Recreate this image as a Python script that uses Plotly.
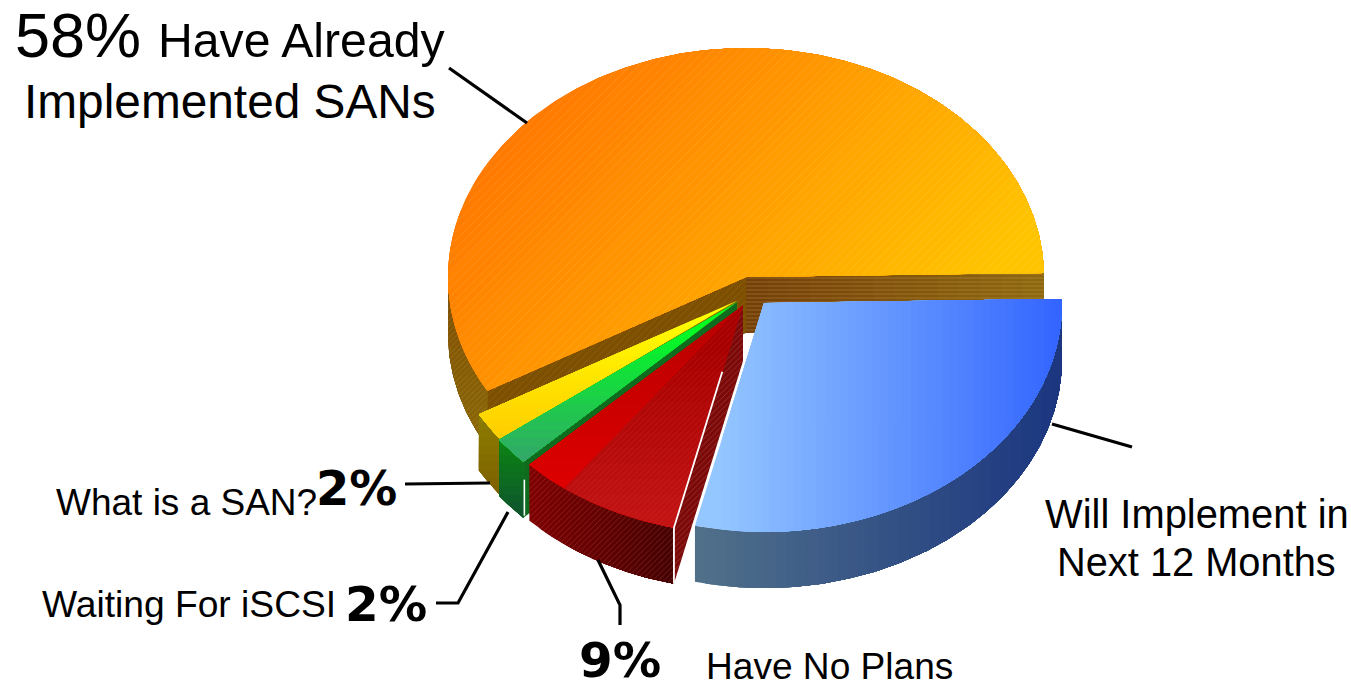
import numpy as np
import plotly.graph_objects as go

# ---- data -------------------------------------------------------------
slice_names = ["Have Already Implemented SANs", "What is a SAN?", "Waiting For iSCSI",
               "Have No Plans", "Will Implement in Next 12 Months"]
slice_values = [58, 2, 2, 9, 29]

# ---- styling ----------------------------------------------------------
W, H = 1351, 682
RX, RY, DEPTH = 298, 229, 56
START_ANGLE = 1
centres = [(746, 277), (737.5, 300.5), (737, 302), (743, 305), (764, 303)]

fig = go.Figure()


def mix(a, b, f):
    a = [int(a[i:i + 2], 16) for i in (1, 3, 5)]
    b = [int(b[i:i + 2], 16) for i in (1, 3, 5)]
    return "rgb(%d,%d,%d)" % tuple(round(x + (y - x) * f) for x, y in zip(a, b))


def clip_ge(pts, d, lim):
    """keep the part of a polygon whose projection on d is >= lim"""
    out = []
    n = len(pts)
    for i in range(n):
        p, q = pts[i], pts[(i + 1) % n]
        pv = p[0] * d[0] + p[1] * d[1] - lim
        qv = q[0] * d[0] + q[1] * d[1] - lim
        if pv >= 0:
            out.append(p)
        if (pv >= 0) != (qv >= 0):
            f = pv / (pv - qv)
            out.append((p[0] + (q[0] - p[0]) * f, p[1] + (q[1] - p[1]) * f))
    return out


def add_poly(pts, color):
    xs = [p[0] for p in pts] + [pts[0][0]]
    ys = [p[1] for p in pts] + [pts[0][1]]
    fig.add_trace(go.Scatter(x=xs, y=ys, mode="lines", fill="toself", fillcolor=color,
                             line=dict(width=0, color=color), hoverinfo="skip", showlegend=False))


def gradient(pts, c0, c1, d=(1, 0), p0=None, p1=None, n=28):
    pr = [p[0] * d[0] + p[1] * d[1] for p in pts]
    p0 = min(pr) if p0 is None else p0
    p1 = max(pr) if p1 is None else p1
    add_poly(pts, mix(c0, c1, 0))
    for k in range(1, n + 1):
        lim = p0 + (p1 - p0) * k / n
        part = clip_ge(pts, d, lim)
        if len(part) >= 3:
            add_poly(part, mix(c0, c1, k / n))


def hatch(pts, fg="#ffffff", op=0.25, size=7, solidity=0.14, shape="/"):
    xs = [p[0] for p in pts] + [pts[0][0]]
    ys = [p[1] for p in pts] + [pts[0][1]]
    fig.add_trace(go.Scatter(x=xs, y=ys, mode="lines", fill="toself",
                             fillcolor="rgba(0,0,0,0)", line=dict(width=0, color="rgba(0,0,0,0)"),
                             fillpattern=dict(shape=shape, size=size, solidity=solidity, fgcolor=fg,
                                              fgopacity=op, bgcolor="rgba(0,0,0,0)", fillmode="overlay"),
                             hoverinfo="skip", showlegend=False))


def pt(c, deg, dz=0):
    t = np.radians(deg)
    return (c[0] + RX * np.cos(t), c[1] - RY * np.sin(t) + dz)


def arc(c, a, b, dz=0, n=None):
    n = n or max(3, int(abs(b - a) * 1.5))
    return [pt(c, x, dz) for x in np.linspace(a, b, n)]


def top(c, a, b):
    return [c] + arc(c, a, b)


def wall(c, a, b):
    return arc(c, a, b) + arc(c, b, a, DEPTH)


def face(c, a):
    e = pt(c, a)
    return [c, e, (e[0], e[1] + DEPTH), (c[0], c[1] + DEPTH)]


edges = START_ANGLE + np.concatenate([[0], np.cumsum(slice_values)]) * 360.0 / sum(slice_values)
a = [(edges[i], edges[i + 1]) for i in range(len(slice_values))]

# orange (back)
c = centres[0]
f0 = face(c, a[0][0])
gradient(f0, "#74400a", "#8f6a10", n=14); hatch(f0, "#e0b060", .38, 4, .2, "-")
f1 = face(c, a[0][1])
add_poly(f1, "#7c5000"); hatch(f1, "#e0b060", .22, 5, .12)
w = wall(c, 180, a[0][1])
gradient(w, "#7e4e04", "#8c6a08", (0, 1), n=12); hatch(w, "#e0c060", .3, 4, .16)
t = top(c, *a[0])
gradient(t, "#ff7800", "#ffc400", (1, .9), 620, 1230, 40); hatch(t, "#ffffff", .22, 6, .08)

# yellow
c = centres[1]
add_poly(face(c, a[1][1]), "#8a6a00")
gradient(wall(c, *a[1]), "#8c7c00", "#7c5e00", (0, 1), n=10)
gradient(top(c, *a[1]), "#ffff00", "#ffcc00", (0, 1), 310, 435, 16)

# green
c = centres[2]
add_poly(face(c, a[2][1]), "#0f6b1e")
gradient(wall(c, *a[2]), "#0b8214", "#10502f", (0, 1), n=10)
gradient(top(c, *a[2]), "#00ff20", "#33a868", (0, 1), 320, 455, 16)
e = pt(c, a[2][1])
fig.add_trace(go.Scatter(x=[e[0] + 1, e[0] + 1], y=[e[1] + 18, e[1] + DEPTH - 2], mode="lines",
                         line=dict(color="#ffffff", width=1.6), hoverinfo="skip", showlegend=False))

# red
c = centres[3]
f = face(c, a[3][1])
add_poly(f, "#7c0808"); hatch(f, "#ffffff", .25, 4, .16)
w = wall(c, *a[3])
gradient(w, "#7c0000", "#420000", (1, 0), n=14); hatch(w, "#ffb0b0", .28, 4, .16)
t = top(c, *a[3])
gradient(t, "#b80000", "#dd0000", (0, 1), 310, 480, 16)
sub = top(c, a[3][0] + 0.28 * (a[3][1] - a[3][0]), a[3][1])
gradient(sub, "#a80000", "#c41414", (0, 1), 340, 525, 12); hatch(sub, "#ff9090", .22, 4, .12)
e = pt(c, a[3][1])
fx, fy = c[0] + (e[0] - c[0]) * .3, c[1] + (e[1] - c[1]) * .3
fig.add_trace(go.Scatter(x=[fx, e[0], e[0]], y=[fy, e[1], e[1] + DEPTH], mode="lines",
                         line=dict(color="#ffffff", width=1.8), hoverinfo="skip", showlegend=False))

# blue
c = centres[4]
gradient(wall(c, *a[4]), "#50708a", "#1a3580", (1, 0), 695, 1062, 36)
gradient(top(c, *a[4]), "#94c6ff", "#3264ff", (1, 0), 715, 1060, 44)

# leader lines
leader_x = [[449, 527], [1052, 1132], [598, 620, 620], [436, 458, 508], [405, 490]]
leader_y = [[68, 123], [424, 447], [560, 605, 625], [603, 603, 512], [484, 483]]
for lx, ly in zip(leader_x, leader_y):
    fig.add_trace(go.Scatter(x=lx, y=ly, mode="lines", line=dict(color="#000000", width=3.2),
                             hoverinfo="skip", showlegend=False))

# text
SANS = "Liberation Sans"
BOLD = "DejaVu Sans"
text_items = [
    ("58%", 15, 35, 63, SANS),
    ("Have Already", 158, 40, 48.2, SANS),
    ("Implemented SANs", 24, 101, 47.8, SANS),
    ("Will Implement in", 1045, 514, 39.9, SANS),
    ("Next 12 Months", 1057, 562, 39.8, SANS),
    ("What is a SAN?", 56, 502, 37, SANS),
    ("Waiting For iSCSI", 42, 604, 37.2, SANS),
    ("Have No Plans", 706, 666, 37.1, SANS),
    ("<b>2%</b>", 316, 488, 47.9, BOLD),
    ("<b>2%</b>", 345, 604, 48.4, BOLD),
    ("<b>9%</b>", 579, 660, 48.4, BOLD),
]
for s, x, y, size, fam in text_items:
    fig.add_annotation(text=s, x=x, y=y, xref="x", yref="y", xanchor="left", yanchor="middle",
                       showarrow=False, font=dict(family=fam, size=size, color="#000000"),
                       borderpad=0, borderwidth=0)

fig.update_layout(width=W, height=H, margin=dict(l=0, r=0, t=0, b=0), autosize=False,
                  paper_bgcolor="#ffffff", plot_bgcolor="#ffffff", showlegend=False,
                  xaxis=dict(range=[0, W], visible=False, fixedrange=True),
                  yaxis=dict(range=[H, 0], visible=False, fixedrange=True))
fig.write_html("out.html", config={"displayModeBar": False},
               post_script="document.body.style.margin='0';document.documentElement.style.overflow='hidden';")
